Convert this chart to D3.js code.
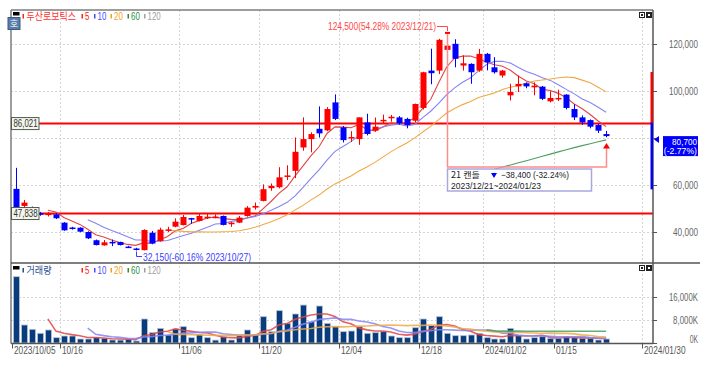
<!DOCTYPE html>
<html><head><meta charset="utf-8">
<script src="https://cdn.jsdelivr.net/npm/d3@7"></script>
<style>body{margin:0;background:#fff;} svg{display:block;}</style>
</head><body>
<svg id="c" width="713" height="366"></svg>
<script>
// ---------------- DATA ----------------
const dates = ["2023/10/05","2023/10/06","2023/10/10","2023/10/11","2023/10/12","2023/10/13","2023/10/16","2023/10/17","2023/10/18","2023/10/19","2023/10/20","2023/10/23","2023/10/24","2023/10/25","2023/10/26","2023/10/27","2023/10/30","2023/10/31","2023/11/01","2023/11/02","2023/11/03","2023/11/06","2023/11/07","2023/11/08","2023/11/09","2023/11/10","2023/11/13","2023/11/14","2023/11/15","2023/11/16","2023/11/17","2023/11/20","2023/11/21","2023/11/22","2023/11/23","2023/11/24","2023/11/27","2023/11/28","2023/11/29","2023/11/30","2023/12/01","2023/12/04","2023/12/05","2023/12/06","2023/12/07","2023/12/08","2023/12/11","2023/12/12","2023/12/13","2023/12/14","2023/12/15","2023/12/18","2023/12/19","2023/12/20","2023/12/21","2023/12/22","2023/12/26","2023/12/27","2023/12/28","2024/01/02","2024/01/03","2024/01/04","2024/01/05","2024/01/08","2024/01/09","2024/01/10","2024/01/11","2024/01/12","2024/01/15","2024/01/16","2024/01/17","2024/01/18","2024/01/19","2024/01/22","2024/01/23"];
const futureDates = ["2024/01/24","2024/01/25","2024/01/26","2024/01/29","2024/01/30"];
const open  = [58300,51060,50340,48000,47600,47500,43950,41900,41830,40000,36500,34340,35800,35750,33800,33000,32300,39700,36200,40800,42260,42960,45900,44700,46300,46300,46800,43300,43970,46800,50340,53190,58600,59000,63500,65960,75870,79430,83800,83150,95000,84400,80000,79430,86500,83000,87300,88600,88640,88000,87230,92640,108500,108500,117300,119860,110640,111350,108500,115600,109900,106400,98000,101800,103100,101400,101700,95450,96800,98300,92200,88640,87500,85400,81560];
const high  = [67230,53620,50800,48500,48500,48000,44200,42200,42000,40300,36800,36600,36800,35900,34100,33300,41150,40400,41800,42200,45800,47200,46000,47900,47800,47500,47000,44300,46800,51000,52500,60200,60600,67500,68300,80130,88640,82300,93300,93000,98400,85000,82800,88640,90200,88600,89800,89700,89200,88500,94500,108000,117800,122000,124500,121800,115000,111600,117700,116000,114200,108800,102900,106400,103500,103500,102000,99800,100400,98500,94200,89500,87800,86000,82900];
const low   = [48500,50300,48800,46900,46600,45500,40500,41000,39900,37000,34300,34200,34000,34300,33200,32150,32200,34800,35900,40000,42000,42800,43500,44500,45500,45800,42800,42200,43800,46500,49500,53000,57500,58500,62000,62850,74500,73800,80100,82800,87500,78000,78200,77000,81000,82500,86000,86800,85500,84000,86500,92000,102700,107000,113800,109900,108500,102900,108000,108600,107200,105500,95800,99400,101000,98000,96000,95000,95600,92000,87500,85500,84000,82000,80200];
const close = [49360,52470,49230,47300,47800,45830,40720,41700,40130,37320,34470,35620,35600,34470,33500,32500,40850,35100,41000,41100,44380,46380,45500,46800,46500,46500,43000,43970,46100,50340,51060,58170,59600,63200,64000,74040,79430,81560,81860,92200,88000,79000,80300,88640,81600,84700,87600,88900,86100,85400,94340,107800,107400,121560,119100,113500,111600,107800,115600,112000,107800,108500,99400,102860,101800,102100,96500,96900,96900,92640,88640,86500,84700,83000,80700];
const volumeK = [23060,6260,4760,3370,4520,1850,2430,2430,1390,1390,1850,1620,1040,1000,1280,700,8350,3600,5100,2780,4870,5680,1850,3010,1850,1000,2200,1040,2780,4520,2780,9160,3940,11250,6840,10090,13200,7420,12870,6840,5680,3940,4170,5680,3370,3600,3940,2430,1850,1850,5330,8350,6030,9160,3370,2550,2550,2780,3370,1850,1390,1390,5100,2780,1390,1850,2200,1620,1620,2200,1850,1620,1620,1040,1390];
const dateTickValues = ["2023/10/05","2023/10/16","2023/11/06","2023/11/20","2023/12/04","2023/12/18","2024/01/02","2024/01/15","2024/01/30"];
const dateTickLabels = ["2023/10/05","10/16","11/06","11/20","12/04","12/18","2024/01/02","01/15","2024/01/30"];
const priceTicks = [40000,60000,80000,100000,120000];
const volumeTicks = [0,8000,16000];
const refLines = [86021,47838];
const limitRange = [107900,86021,58100];
const maPeriods = [5,10,20,60,120];
const maColors  = ["#e04545","#8484f4","#eeaa48","#4c9f60","#aaaaaa"];
const legendColors = ["#ff2020","#4848ff","#f0a020","#2a9040","#a0a0a0"];
const stockName = "두산로보틱스";
const highInfo = {price:124500, pct:"54.28%", date:"2023/12/21"};
const lowInfo  = {price:32150, pct:"-60.16%", date:"2023/10/27"};
const lastInfo = {price:80700, pct:"-2.77%"};
const spanInfo = {count:21, diff:-38400, pct:"-32.24%", from:"2023/12/21", to:"2024/01/23"};

// ---------------- SCALES ----------------
const svg = d3.select("#c");
const allDates = dates.concat(futureDates);
const x = d3.scaleBand().domain(allDates).range([12, 650]).padding(0);
const step = x.step();
const cx = d => x(d) + step/2;
const y = d3.scaleLinear().domain([40000,120000]).range([232,43.5]);
const yv = d3.scaleLinear().domain([0,16000]).range([343,297]);
const L = 11, R = 653, T = 10, MID = 263, B = 343.5;
const FONT = "'Liberation Sans', Arial, sans-serif";
const KFONT = "'Noto Sans CJK KR', sans-serif";

function txt(g, xx, yy, s, o={}) {
  const t = g.append("text").attr("x", xx).attr("y", yy).text(s)
    .attr("font-family", o.font || FONT).attr("font-size", o.size || 10)
    .attr("fill", o.fill || "#555").attr("text-anchor", o.anchor || "start");
  const len = o.len != null ? o.len : s.length * (o.cw || 4.15);
  t.attr("textLength", len).attr("lengthAdjust", "spacingAndGlyphs");
  return t;
}

// ---------------- GRID ----------------
const grid = svg.append("g").attr("stroke", "#d4d4d4").attr("stroke-dasharray", "2,2").attr("stroke-width", 1);
dateTickValues.forEach(d => {
  if (d === dates[0]) return;
  const xx = Math.round(x(d)) + 0.5;
  grid.append("line").attr("x1", xx).attr("x2", xx).attr("y1", T).attr("y2", B);
});
priceTicks.forEach(p => {
  const yy = Math.round(y(p)) + 0.5;
  grid.append("line").attr("x1", L).attr("x2", R).attr("y1", yy).attr("y2", yy);
});
volumeTicks.filter(v => v > 0).forEach(v => {
  const yy = Math.round(yv(v)) + 0.5;
  grid.append("line").attr("x1", L).attr("x2", R).attr("y1", yy).attr("y2", yy);
});

// ---------------- MOVING AVERAGES ----------------
function sma(arr, n) {
  return arr.map((_, i) => i < n-1 ? null : d3.mean(arr.slice(i-n+1, i+1)));
}
svg.append("clipPath").attr("id", "pc").append("rect").attr("x", L).attr("y", T).attr("width", R-L).attr("height", MID-T);
const pg = svg.append("g").attr("clip-path", "url(#pc)");

refLines.forEach(v => {
  pg.append("line").attr("x1", L).attr("x2", R).attr("y1", y(v)).attr("y2", y(v))
    .attr("stroke", "#ff0000").attr("stroke-width", 2);
});

maPeriods.forEach((n, k) => {
  const m = sma(close, n);
  const line = d3.line().defined(d => d != null).x((d, i) => cx(dates[i])).y(d => y(d));
  pg.append("path").datum(m).attr("d", line).attr("fill", "none")
    .attr("stroke", maColors[k]).attr("stroke-width", 1.1);
});

// ---------------- CANDLES ----------------
const bw = 6;
dates.forEach((d, i) => {
  const up = close[i] >= open[i];
  const col = up ? "#ff0000" : "#0000ff";
  const xc = Math.round(cx(d));
  pg.append("line").attr("x1", xc + 0.5).attr("x2", xc + 0.5)
    .attr("y1", y(high[i])).attr("y2", y(low[i])).attr("stroke", col).attr("stroke-width", 1);
  const y1 = y(Math.max(open[i], close[i])), y2 = y(Math.min(open[i], close[i]));
  pg.append("rect").attr("x", xc - 2.5).attr("y", y1).attr("width", bw)
    .attr("height", Math.max(1.5, y2 - y1)).attr("fill", col);
});

// ---------------- SPAN BRACKET ----------------
const iH = dates.indexOf(spanInfo.from), iE = dates.indexOf(spanInfo.to);
const xH = Math.round(cx(dates[iH])) + 0.5, xE = Math.round(cx(dates[iE])) + 0.5;
const yBot = 167;
svg.append("path").attr("d", `M${xH},${y(highInfo.price)} V${yBot} H${xE} V148`)
  .attr("fill", "none").attr("stroke", "#ff8c8c").attr("stroke-width", 1.5);
svg.append("path").attr("d", `M${xE},143 L${xE-3.5},148.5 L${xE+3.5},148.5 Z`).attr("fill", "#ff0000");

// info box
const ib = svg.append("g");
ib.append("rect").attr("x", 447.5).attr("y", 169).attr("width", 144).attr("height", 22)
  .attr("fill", "#fff").attr("stroke", "#a8a8e0").attr("stroke-width", 1.5);
txt(ib, 451, 178, spanInfo.count + " 캔들", {font: KFONT, size: 8.5, fill: "#222", len: 29});
ib.append("path").attr("d", "M491,173 L497,173 L494,178 Z").attr("fill", "#0000ff");
txt(ib, 501, 178, d3.format(",")(spanInfo.diff) + " (" + spanInfo.pct + ")", {size: 9, fill: "#222", len: 68});
txt(ib, 451, 188.5, spanInfo.from + "~" + spanInfo.to, {size: 9, fill: "#222", len: 90});

// high annotation
const ha = svg.append("g");
const highLabel = d3.format(",")(highInfo.price) + "(" + highInfo.pct + " " + highInfo.date + ")";
txt(ha, 436, 30, highLabel, {fill: "#ff4848", anchor: "end", len: 108});
ha.append("path").attr("d", `M437,26.5 H${xH} V31`).attr("fill", "none").attr("stroke", "#ff4848").attr("stroke-width", 1);
ha.append("rect").attr("x", xH - 2.5).attr("y", y(highInfo.price) - 1).attr("width", 5).attr("height", 2).attr("fill", "#ff0000");

// low annotation
const la = svg.append("g");
const iL = dates.indexOf(lowInfo.date);
const xL = Math.round(cx(dates[iL])) + 0.5;
la.append("path").attr("d", `M${xL},${y(lowInfo.price) + 1} V256.5 H142`).attr("fill", "none").attr("stroke", "#3c3cff").attr("stroke-width", 1);
txt(la, 143, 260.5, d3.format(",")(lowInfo.price) + "(" + lowInfo.pct + " " + lowInfo.date + ")", {fill: "#3c3cff", len: 108});

// ---------------- VOLUME ----------------
const vg = svg.append("g");
dates.forEach((d, i) => {
  const xc = Math.round(cx(d));
  vg.append("rect").attr("x", xc - 2.5).attr("y", yv(volumeK[i])).attr("width", 6)
    .attr("height", 343 - yv(volumeK[i])).attr("fill", "#0a3c7c").attr("stroke", "#b4c4da").attr("stroke-width", 0.8);
});
maPeriods.forEach((n, k) => {
  const m = sma(volumeK, n);
  const line = d3.line().defined(d => d != null).x((d, i) => cx(dates[i])).y(d => yv(d));
  vg.append("path").datum(m).attr("d", line).attr("fill", "none")
    .attr("stroke", maColors[k]).attr("stroke-width", 1.6).attr("opacity", 0.85);
});

// ---------------- FRAME ----------------
const fr = svg.append("g").attr("stroke", "#7c7c7c").attr("fill", "none");
fr.append("line").attr("x1", L).attr("x2", R).attr("y1", T).attr("y2", T).attr("stroke-width", 1.5);
fr.append("line").attr("x1", L).attr("x2", L).attr("y1", T).attr("y2", B).attr("stroke-width", 1.5);
fr.append("line").attr("x1", R).attr("x2", R).attr("y1", T).attr("y2", B).attr("stroke-width", 1.5).attr("stroke", "#555");
fr.append("line").attr("x1", L).attr("x2", 700).attr("y1", MID).attr("y2", MID).attr("stroke-width", 1.5).attr("stroke", "#555");
fr.append("line").attr("x1", L).attr("x2", R).attr("y1", B).attr("y2", B).attr("stroke-width", 1.5).attr("stroke", "#555");

// limit range bars on right edge
svg.append("rect").attr("x", 650.5).attr("y", y(limitRange[0])).attr("width", 2.5).attr("height", y(limitRange[1]) - y(limitRange[0])).attr("fill", "#ff0000");
svg.append("rect").attr("x", 650.5).attr("y", y(limitRange[1]) - 1).attr("width", 2.5).attr("height", y(limitRange[2]) - y(limitRange[1]) + 1).attr("fill", "#0000ff");

// ---------------- AXES ----------------
const lastY = y(lastInfo.price);
const ax = svg.append("g");
priceTicks.forEach(p => {
  const yy = Math.round(y(p)) + 0.5;
  ax.append("line").attr("x1", R).attr("x2", R + 4).attr("y1", yy).attr("y2", yy).attr("stroke", "#555");
  // label hidden under the current-price box in the reference
  if (yy > lastY - 4 && yy < lastY + 24) return;
  txt(ax, 698, yy + 3.5, d3.format(",")(p), {anchor: "end", fill: "#666"});
});
volumeTicks.forEach(v => {
  const yy = Math.round(yv(v)) + 0.5;
  ax.append("line").attr("x1", R).attr("x2", R + 4).attr("y1", yy).attr("y2", yy).attr("stroke", "#555");
  txt(ax, 698, Math.min(yy + 3.5, 342.5), d3.format(",")(v) + "K", {anchor: "end", fill: "#666"});
});
dateTickValues.forEach((d, k) => {
  const xx = Math.round(x(d)) + 0.5;
  ax.append("line").attr("x1", xx).attr("x2", xx).attr("y1", B).attr("y2", B + 5).attr("stroke", "#555");
  txt(ax, xx + 1.5, 353.5, dateTickLabels[k], {fill: "#555"});
});

// current price marker + label
svg.append("path").attr("d", `M654,${lastY + 3.5} L659,${lastY} L659,${lastY + 7} Z`).attr("fill", "#0000ff");
svg.append("rect").attr("x", 663).attr("y", lastY).attr("width", 35).attr("height", 20).attr("fill", "#0000ff");
txt(svg, 697, lastY + 8.5, d3.format(",")(lastInfo.price), {size: 9.5, anchor: "end", fill: "#fff"});
txt(svg, 697, lastY + 18, "(" + lastInfo.pct + ")", {size: 9.5, anchor: "end", fill: "#fff"});

// reference line labels
refLines.forEach(v => {
  const yy = y(v);
  svg.append("rect").attr("x", 11.5).attr("y", yy - 6).attr("width", 27.5).attr("height", 12)
    .attr("fill", "#f4f6ec").attr("stroke", "#4d5d4d").attr("stroke-width", 1);
  txt(svg, 13.5, yy + 3.7, d3.format(",")(v), {fill: "#333", len: 24});
});

// ---------------- LEGENDS ----------------
function legend(yTop, name, nameColor, nameLen, nameBarColor) {
  const g = svg.append("g");
  g.append("rect").attr("x", 13).attr("y", yTop).attr("width", 6.5).attr("height", 3.5).attr("fill", "#000");
  g.append("rect").attr("x", 22.5).attr("y", yTop + 2).attr("width", 1.5).attr("height", 4.5).attr("fill", nameBarColor);
  txt(g, 26.5, yTop + 8, name, {font: KFONT, size: 10, fill: nameColor, len: nameLen});
  const xs = [81.5, 94, 110.5, 127.5, 144];
  maPeriods.forEach((n, k) => {
    g.append("rect").attr("x", xs[k]).attr("y", yTop + 2).attr("width", 1.5).attr("height", 4.5).attr("fill", legendColors[k]);
    txt(g, xs[k] + 3.5, yTop + 8, String(n), {fill: legendColors[k], cw: 4.4});
  });
}
legend(12, stockName, "#ff3030", 49.5, "#ff2020");
legend(266, "거래량", "#1f4e8c", 25, "#1f4e8c");

// "호" button
svg.append("rect").attr("x", 8).attr("y", 17.5).attr("width", 12).attr("height", 12).attr("fill", "#5a7eaa").attr("stroke", "#3a5880");
txt(svg, 14, 27, "호", {font: KFONT, size: 9, fill: "#fff", anchor: "middle", len: 8});

// small window icons
[[639, 12], [639, 265]].forEach(([ix, iy]) => {
  svg.append("rect").attr("x", ix + 0.5).attr("y", iy + 0.5).attr("width", 5).attr("height", 5).attr("fill", "#fff").attr("stroke", "#222");
  svg.append("rect").attr("x", ix + 2).attr("y", iy + 2).attr("width", 2).attr("height", 2).attr("fill", "#222");
  svg.append("rect").attr("x", ix + 7).attr("y", iy).attr("width", 6).attr("height", 6).attr("fill", "#222");
  svg.append("rect").attr("x", ix + 9).attr("y", iy + 2).attr("width", 2).attr("height", 2).attr("fill", "#fff");
});
</script>
</body></html>
